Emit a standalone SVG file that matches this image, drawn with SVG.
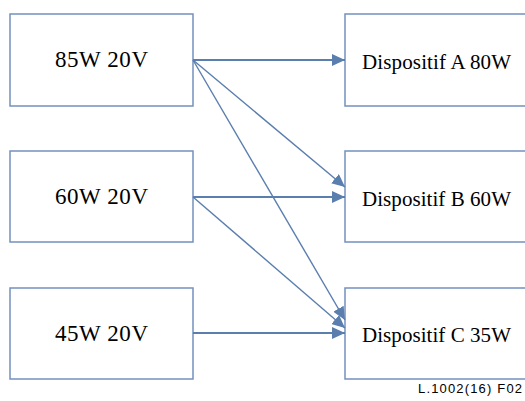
<svg xmlns="http://www.w3.org/2000/svg" width="525" height="401" viewBox="0 0 525 401">
<defs>
<style>
.box{fill:#ffffff;stroke:#7391bf;stroke-width:1.5}
.src{font-family:"Liberation Serif","Times New Roman",serif;font-size:23px;fill:#000;text-anchor:middle}
.dev{font-family:"Liberation Serif","Times New Roman",serif;font-size:21px;fill:#000}
.h{stroke:#5a7eae;stroke-width:2.2;fill:none}
.d{stroke:#5a7eae;stroke-width:1.4;fill:none}
.foot{font-family:"Liberation Sans",Arial,sans-serif;font-size:13px;fill:#000}
</style>
<marker id="ah" markerUnits="userSpaceOnUse" markerWidth="14" markerHeight="12" viewBox="0 0 14 12" refX="13" refY="6" orient="auto">
<path d="M0,0 L13,6 L0,12 Z" fill="#5a7eae"/>
</marker>
</defs>
<rect width="525" height="401" fill="#ffffff"/>
<g id="src85"><rect class="box" x="10" y="14" width="183" height="92"/><text class="src" x="101.5" y="67" textLength="93">85W 20V</text></g>
<g id="src60"><rect class="box" x="10" y="151" width="183" height="91"/><text class="src" x="101.5" y="204" textLength="93">60W 20V</text></g>
<g id="src45"><rect class="box" x="10" y="288" width="183" height="91"/><text class="src" x="101.5" y="341" textLength="93">45W 20V</text></g>
<g id="devA"><rect class="box" x="345" y="14" width="200" height="92"/><text class="dev" x="362" y="69" textLength="149">Dispositif A 80W</text></g>
<g id="devB"><rect class="box" x="345" y="151" width="200" height="91"/><text class="dev" x="362" y="206" textLength="149">Dispositif B 60W</text></g>
<g id="devC"><rect class="box" x="345" y="288" width="200" height="91"/><text class="dev" x="362" y="342" textLength="149">Dispositif C 35W</text></g>
<g id="connectors">
<line class="h" x1="193" y1="60" x2="345" y2="60" marker-end="url(#ah)"/>
<line class="h" x1="193" y1="197" x2="345" y2="197" marker-end="url(#ah)"/>
<line class="h" x1="193" y1="333" x2="345" y2="333" marker-end="url(#ah)"/>
<line class="d" x1="193" y1="60" x2="345" y2="187" marker-end="url(#ah)"/>
<line class="d" x1="193" y1="60" x2="345" y2="320" marker-end="url(#ah)"/>
<line class="d" x1="193" y1="197" x2="345" y2="328" marker-end="url(#ah)"/>
</g>
<text class="foot" x="418" y="393" textLength="104">L.1002(16)  F02</text>
</svg>
